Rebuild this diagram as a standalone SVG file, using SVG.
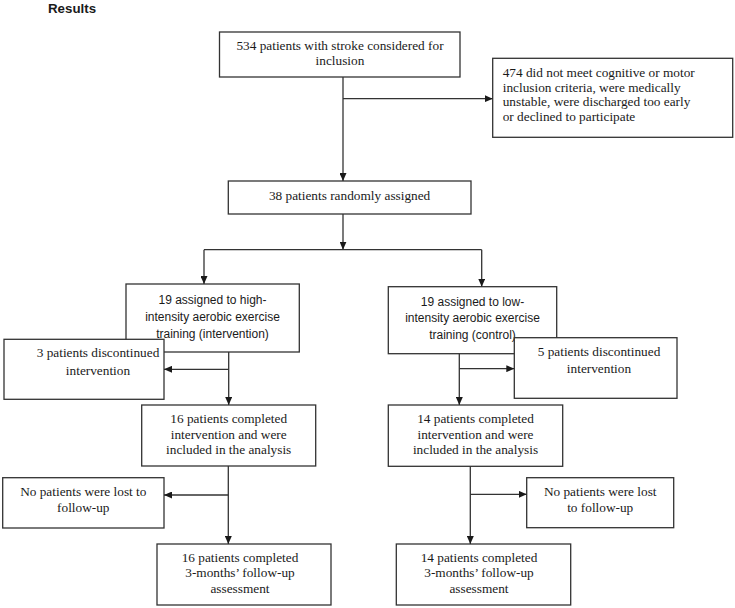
<svg xmlns="http://www.w3.org/2000/svg" width="735" height="608" viewBox="0 0 735 608">
<style>
.box{fill:#fff;stroke:#333;stroke-width:1.3}
.t{font-family:"Liberation Serif","Times New Roman",serif;font-size:13.3px;fill:#1a1a1a}
.c{text-anchor:middle}
.s{font-family:"Liberation Sans",Arial,sans-serif;font-size:12px;fill:#1a1a1a;text-anchor:middle}
.h{font-family:"Liberation Sans",Arial,sans-serif;font-size:13.3px;font-weight:bold;fill:#1a1a1a}
.ln{fill:none;stroke:#333;stroke-width:1.3}
</style>
<defs>
<marker id="ah" markerUnits="userSpaceOnUse" markerWidth="8" markerHeight="7" refX="8" refY="3.5" orient="auto">
<path d="M0,0 L8,3.5 L0,7 z" fill="#1a1a1a"/>
</marker>
</defs>
<rect width="735" height="608" fill="#fff"/>
<text class="h" x="48" y="13">Results</text>

<g id="n-considered">
<rect class="box" x="219.5" y="32" width="240.5" height="45"/>
<text class="t c" x="340" y="50">534 patients with stroke considered for</text>
<text class="t c" x="340" y="65">inclusion</text>
</g>
<g id="n-excluded">
<rect class="box" x="492.7" y="58.3" width="240" height="79"/>
<text class="t" x="502.7" y="77">474 did not meet cognitive or motor</text>
<text class="t" x="502.7" y="91.5">inclusion criteria, were medically</text>
<text class="t" x="502.7" y="106">unstable, were discharged too early</text>
<text class="t" x="502.7" y="121">or declined to participate</text>
</g>
<g id="n-randomized">
<rect class="box" x="228.3" y="181" width="242.7" height="33"/>
<text class="t c" x="349.6" y="200">38 patients randomly assigned</text>
</g>
<g id="n-high">
<rect class="box" x="126" y="284" width="173.3" height="68"/>
<text class="s" x="212.5" y="303.5">19 assigned to high-</text>
<text class="s" x="212.5" y="320.5">intensity aerobic exercise</text>
<text class="s" x="212.5" y="337.5">training (intervention)</text>
</g>
<g id="n-high-disc">
<rect class="box" x="4" y="339.3" width="160" height="60"/>
<text class="t c" x="98" y="357">3 patients discontinued</text>
<text class="t c" x="98" y="374.5">intervention</text>
</g>
<g id="n-high-completed">
<rect class="box" x="141.7" y="405" width="174" height="61"/>
<text class="t c" x="228.7" y="423">16 patients completed</text>
<text class="t c" x="228.7" y="438.5">intervention and were</text>
<text class="t c" x="228.7" y="454">included in the analysis</text>
</g>
<g id="n-high-lost">
<rect class="box" x="2.7" y="477.7" width="161.3" height="50.3"/>
<text class="t c" x="83.3" y="496">No patients were lost to</text>
<text class="t c" x="83.3" y="512">follow-up</text>
</g>
<g id="n-high-followup">
<rect class="box" x="157" y="544" width="174" height="61"/>
<text class="t c" x="240" y="561.5">16 patients completed</text>
<text class="t c" x="240" y="577">3-months’ follow-up</text>
<text class="t c" x="240" y="592.5">assessment</text>
</g>
<g id="n-low">
<rect class="box" x="388.3" y="286.7" width="168.4" height="67"/>
<text class="s" x="472.5" y="305.5">19 assigned to low-</text>
<text class="s" x="472.5" y="322">intensity aerobic exercise</text>
<text class="s" x="472.5" y="338.5">training (control)</text>
</g>
<g id="n-low-disc">
<rect class="box" x="514.3" y="337.7" width="162.7" height="60.6"/>
<text class="t c" x="599" y="356">5 patients discontinued</text>
<text class="t c" x="599" y="373">intervention</text>
</g>
<g id="n-low-completed">
<rect class="box" x="388.3" y="405" width="174.4" height="61.3"/>
<text class="t c" x="475.5" y="423">14 patients completed</text>
<text class="t c" x="475.5" y="438.5">intervention and were</text>
<text class="t c" x="475.5" y="454">included in the analysis</text>
</g>
<g id="n-low-lost">
<rect class="box" x="526.7" y="477.7" width="147" height="50"/>
<text class="t c" x="600.2" y="495.5">No patients were lost</text>
<text class="t c" x="600.2" y="511.5">to follow-up</text>
</g>
<g id="n-low-followup">
<rect class="box" x="396.3" y="544" width="174.4" height="61"/>
<text class="t c" x="479" y="561.5">14 patients completed</text>
<text class="t c" x="479" y="577">3-months’ follow-up</text>
<text class="t c" x="479" y="592.5">assessment</text>
</g>

<g id="connectors">
<path class="ln" d="M343,77 V181" marker-end="url(#ah)"/>
<path class="ln" d="M343,98.7 H492.7" marker-end="url(#ah)"/>
<path class="ln" d="M343,214 V249.7" marker-end="url(#ah)"/>
<path class="ln" d="M204,249.7 H481.7"/>
<path class="ln" d="M204,249.7 V284" marker-end="url(#ah)"/>
<path class="ln" d="M481.7,249.7 V286.7" marker-end="url(#ah)"/>
<path class="ln" d="M228.7,352 V405" marker-end="url(#ah)"/>
<path class="ln" d="M228.7,369.3 H164" marker-end="url(#ah)"/>
<path class="ln" d="M228.3,466 V544" marker-end="url(#ah)"/>
<path class="ln" d="M228.3,495 H164" marker-end="url(#ah)"/>
<path class="ln" d="M459.3,353.7 V405" marker-end="url(#ah)"/>
<path class="ln" d="M459.3,368.7 H514.3" marker-end="url(#ah)"/>
<path class="ln" d="M470.3,466.3 V544" marker-end="url(#ah)"/>
<path class="ln" d="M470.3,494.3 H526.7" marker-end="url(#ah)"/>
</g>
</svg>
